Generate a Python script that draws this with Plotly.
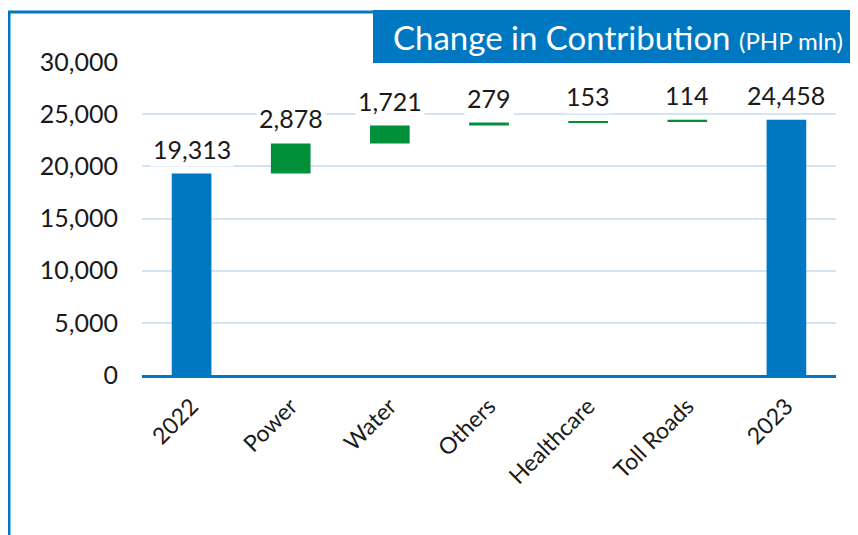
import plotly.graph_objects as go

categories = ["2022", "Power", "Water", "Others", "Healthcare", "Toll Roads", "2023"]
values = [19313, 2878, 1721, 279, 153, 114, 24458]
measures = ["absolute", "relative", "relative", "relative", "relative", "relative", "total"]
label_texts = ["19,313", "2,878", "1,721", "279", "153", "114", "24,458"]
y_ticks = [0, 5000, 10000, 15000, 20000, 25000, 30000]
y_tick_labels = ["0", "5,000", "10,000", "15,000", "20,000", "25,000", "30,000"]

BLUE = "#0078C1"
GREEN = "#00903A"
GRID = "#D3E5F4"
FONT = "Lato"
TXT = "#1a1a1a"

fig = go.Figure(go.Waterfall(
    x=categories, y=values, measure=measures,
    increasing=dict(marker=dict(color=GREEN)),
    decreasing=dict(marker=dict(color="#C00000")),
    totals=dict(marker=dict(color=BLUE)),
    connector=dict(visible=False),
    width=0.4,
    hoverinfo="x+y",
))

# value labels above each bar top
tops = []
running = 0
for m, v in zip(measures, values):
    if m == "absolute":
        running = v
    elif m == "relative":
        running += v
    tops.append(running)

for i, (t, txt) in enumerate(zip(tops, label_texts)):
    fig.add_annotation(x=i, y=t, text=txt, showarrow=False, xref="x", yref="y",
                       yanchor="bottom", yshift=7, bgcolor="white", borderpad=2,
                       font=dict(family=FONT, size=25, color=TXT))

# page offset of the figure (browser body margin)
OFF = 8
W, H = 858 - OFF, 535 - OFF
L, R, T, B = 142 - OFF, 22, 62 - OFF, 160
pw, ph = W - L - R, H - T - B

def px(x):
    return (x - OFF - L) / pw

def py(y):
    return (H - B - (y - OFF)) / ph

# frame lines
fig.add_shape(type="line", xref="paper", yref="paper", x0=px(9), x1=px(9), y0=py(12), y1=py(545),
              line=dict(color=BLUE, width=3))
fig.add_shape(type="line", xref="paper", yref="paper", x0=px(8), x1=px(374), y0=py(12), y1=py(12),
              line=dict(color=BLUE, width=3))
# title box
fig.add_shape(type="rect", xref="paper", yref="paper", x0=px(373), x1=px(870), y0=py(63), y1=py(10),
              fillcolor=BLUE, line=dict(width=0), layer="above")
fig.add_annotation(xref="paper", yref="paper", x=px(618), y=py(37), showarrow=False,
                   xanchor="center", yanchor="middle",
                   text="Change in Contribution <span style='font-size:24px'>(PHP mln)</span>",
                   font=dict(family=FONT, size=33, color="white"))

fig.update_layout(
    width=W, height=H,
    margin=dict(l=L, r=R, t=T, b=B, autoexpand=False),
    paper_bgcolor="white", plot_bgcolor="white",
    showlegend=False,
    font=dict(family=FONT, color=TXT),
    xaxis=dict(type="category", range=[-0.5, len(categories) - 0.5], tickangle=-45,
               tickfont=dict(size=23), showgrid=False, showline=True,
               linecolor=BLUE, linewidth=2.5, ticks="", zeroline=False, automargin=False,
               ticklabelstandoff=6),
    yaxis=dict(range=[0, 30000], tickvals=y_ticks, ticktext=y_tick_labels,
               tickfont=dict(size=25), showgrid=True, gridcolor=GRID, gridwidth=1.5,
               zeroline=False, showline=False, ticks="", ticklabelstandoff=23, automargin=False),
)

fig.write_html("out.html")
